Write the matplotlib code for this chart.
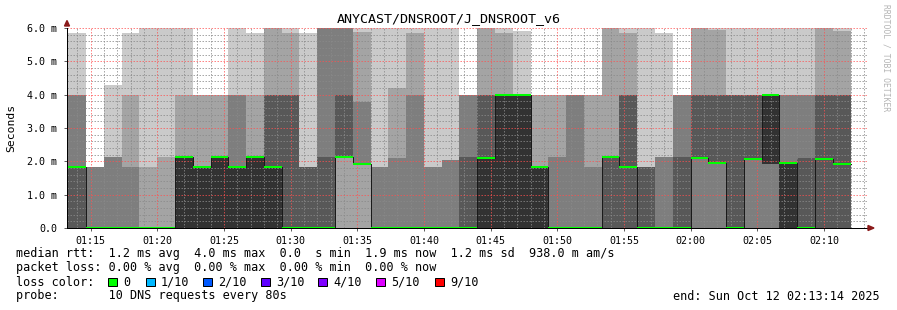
import matplotlib
matplotlib.use("Agg")
import matplotlib.pyplot as plt
import numpy as np
from matplotlib.patches import Polygon, Rectangle

# ---------------- data ----------------
title = "ANYCAST/DNSROOT/J_DNSROOT_v6"
graph_start_min = 73 + 14 / 60.0      # 01:13:14
graph_end_min = 133 + 14 / 60.0       # 02:13:14
first_step_min = 73 + 20 / 60.0       # 01:13:20
step_seconds = 80

# ten sorted ping round-trip times per 80 s step (ms)
ping_1 = [0] * 44
ping_2 = [0] * 44
ping_3 = [0, 0, 0, 0, 0, 0, 0, 0, 0, 0, 0, 0, 0, 0, 0, 2.14, 1.92, 0, 0, 0, 0, 0,
          0, 0, 0, 0, 0, 0, 0, 0, 0, 0, 0, 0, 0, 0, 0, 0, 0, 0, 0, 0, 0, 0]
ping_4 = [0, 0, 0, 0, 0, 0, 0, 0, 0, 0, 0, 0, 0, 0, 0, 2.14, 1.92, 0, 0, 0, 0, 0,
          0, 0, 0, 0, 0, 0, 0, 0, 0, 0, 0, 0, 0, 2.1, 1.95, 0, 2.06, 1.92, 0, 0, 0, 0]
ping_5 = [1.84, 0, 0, 0, 0, 0, 0, 0, 0, 0, 0, 0, 0, 0, 0, 2.14, 1.92, 0, 0, 0, 0, 0,
          0, 0, 0, 0, 0, 0, 0, 0, 2.14, 1.84, 0, 0, 0, 2.1, 1.95, 0, 2.06, 1.92, 0, 0, 2.06, 1.92]
ping_6 = [1.84, 0, 0, 0, 0, 0, 2.14, 1.84, 2.14, 1.84, 2.14, 1.84, 0, 0, 0, 2.14, 1.92, 0, 0, 0, 0, 0,
          0, 2.1, 4.0, 4.0, 1.84, 0, 0, 0, 2.14, 1.84, 0, 0, 0, 2.1, 1.95, 0, 2.06, 4.0, 1.95, 0, 2.06, 1.92]
ping_7 = [1.84, 0, 0, 0, 0, 0, 2.14, 1.84, 2.14, 1.84, 2.14, 4.0, 4.0, 1.84, 2.14, 4.0, 1.92, 0, 0, 0, 0, 0,
          2.14, 4.0, 4.0, 4.0, 1.84, 0, 0, 0, 2.14, 4.0, 1.84, 0, 2.14, 4.0, 4.0, 4.0, 4.0, 4.0, 1.95, 2.1, 4.0, 4.0]
ping_8 = [4.0, 1.84, 2.14, 1.84, 0, 0, 2.14, 1.84, 2.14, 4.0, 2.14, 4.0, 4.0, 1.84, 6.3, 6.3, 3.79, 1.84, 2.1, 4.0, 1.84, 2.04,
          4.0, 4.0, 4.0, 4.0, 1.84, 2.14, 4.0, 1.84, 2.14, 4.0, 1.84, 2.14, 4.0, 4.0, 4.0, 4.0, 4.0, 4.0, 4.0, 4.0, 4.0, 4.0]
ping_9 = [4.0, 1.84, 2.14, 4.0, 1.84, 2.14, 4.0, 4.0, 4.0, 4.0, 4.0, 6.3, 5.85, 1.84, 6.3, 6.3, 5.88, 1.84, 4.2, 5.85, 1.84, 2.04,
          4.0, 6.3, 5.85, 4.0, 4.0, 4.0, 4.0, 4.0, 6.3, 5.85, 1.84, 2.14, 4.0, 6.3, 5.95, 4.0, 4.0, 4.0, 4.0, 4.0, 6.3, 5.9]
ping_10 = [5.85, 1.84, 4.29, 5.85, 6.3, 6.3, 6.3, 4.0, 4.0, 6.3, 5.85, 6.3, 6.3, 5.85, 6.3, 6.3, 6.3, 6.3, 6.3, 6.3, 6.3, 6.3,
           4.0, 6.3, 6.3, 5.9, 4.0, 4.0, 4.0, 4.0, 6.3, 6.3, 6.3, 5.85, 4.0, 6.3, 6.3, 6.3, 6.3, 6.3, 6.3, 6.3, 6.3, 6.3]
median_rtt = [1.84, 0, 0, 0, 0, 0, 2.14, 1.84, 2.14, 1.84, 2.14, 1.84, 0, 0, 0, 2.14, 1.92, 0, 0, 0, 0, 0,
              0, 2.1, 4.0, 4.0, 1.84, 0, 0, 0, 2.14, 1.84, 0, 0, 0, 2.1, 1.95, 0, 2.06, 4.0, 1.95, 0, 2.06, 1.92]

y_ticks = [0, 1, 2, 3, 4, 5, 6]
y_tick_labels = ["0.0", "1.0 m", "2.0 m", "3.0 m", "4.0 m", "5.0 m", "6.0 m"]
x_tick_minutes = [75, 80, 85, 90, 95, 100, 105, 110, 115, 120, 125, 130]
x_tick_labels = ["01:15", "01:20", "01:25", "01:30", "01:35", "01:40",
                 "01:45", "01:50", "01:55", "02:00", "02:05", "02:10"]

legend_lines = [
    "median rtt:  1.2 ms avg  4.0 ms max  0.0  s min  1.9 ms now  1.2 ms sd  938.0 m am/s",
    "packet loss: 0.00 % avg  0.00 % max  0.00 % min  0.00 % now",
    "loss color:",
    "probe:       10 DNS requests every 80s",
]
loss_labels = ["0", "1/10", "2/10", "3/10", "4/10", "5/10", "9/10"]
loss_colors = ["#00ff00", "#00b8ff", "#0059ff", "#5e00ff", "#7e00ff", "#dd00ff", "#ff0000"]
end_text = "end: Sun Oct 12 02:13:14 2025"
smoke_colors = ["#cacaca", "#a4a4a4", "#7e7e7e", "#585858", "#323232"]

# ---------------- layout ----------------
W, H, DPI = 897, 310, 100
L, R, T, B = 67, 867, 28, 228
MONO = "DejaVu Sans Mono"

fig = plt.figure(figsize=(W / DPI, H / DPI), dpi=DPI)
fig.patch.set_facecolor("white")
ax = fig.add_axes([L / W, 1 - B / H, (R - L) / W, (B - T) / H])
ax.set_facecolor("white")
ax.set_xlim(graph_start_min, graph_end_min)
ax.set_ylim(0, 6)

pings = np.array([ping_1, ping_2, ping_3, ping_4, ping_5,
                  ping_6, ping_7, ping_8, ping_9, ping_10], dtype=float)
n = pings.shape[1]
step_min = step_seconds / 60.0
edges = first_step_min + step_min * np.arange(n + 1)

# smoke: nested bands between ping i and ping 11-i
for i, col in enumerate(smoke_colors):
    lo = np.append(pings[i], pings[i][-1])
    hi = np.append(pings[9 - i], pings[9 - i][-1])
    ax.fill_between(edges, lo, hi, step="post", color=col, linewidth=0, zorder=1)

# grid on top of the smoke
px = 1 / 1.389  # one pixel in points at 100 dpi
minor_kw = dict(color="#8a8a8a", alpha=0.75, lw=px, dashes=(1.5, 1.5), zorder=3)
major_kw = dict(color="#ff5050", alpha=0.7, lw=px, dashes=(1.5, 1.5), zorder=3)
for m in range(74, 134):
    if m % 5 == 0:
        continue
    ax.axvline(m, **minor_kw)
for v in np.arange(0.2, 6.01, 0.2):
    if abs(v - round(v)) < 1e-6:
        continue
    ax.axhline(v, **minor_kw)
for m in x_tick_minutes:
    ax.axvline(m, **major_kw)
for v in y_ticks[1:]:
    ax.axhline(v, **major_kw)

# median: thin dark step line and green loss-coloured segments
med = np.array(median_rtt, dtype=float)
ax.step(edges, np.append(med, med[-1]), where="post", color="#1a1a1a", lw=px, zorder=4)
ax.hlines(med, edges[:-1], edges[1:], color=loss_colors[0], lw=2 * px, zorder=5)

# axes styling
for s in ["top", "right"]:
    ax.spines[s].set_visible(False)
for s in ["left", "bottom"]:
    ax.spines[s].set_color("#000000")
    ax.spines[s].set_linewidth(px)
    ax.spines[s].set_zorder(6)

ax.set_yticks(y_ticks)
ax.set_yticklabels(y_tick_labels, fontfamily=MONO, fontsize=7.2)
ax.set_xticks(x_tick_minutes)
ax.set_xticklabels(x_tick_labels, fontfamily=MONO, fontsize=7.2)
ax.tick_params(axis="both", length=2, width=px, color="#606060", pad=4)
ax.tick_params(axis="y", pad=5)

# arrows
def fpt(x, y):
    return (x / W, 1 - y / H)

fig.patches.append(Polygon([fpt(64.5, 26), fpt(69.5, 26), fpt(67, 20.5)], closed=True,
                           transform=fig.transFigure, color="#8b1a1a", zorder=10))
fig.patches.append(Polygon([fpt(868, 225.5), fpt(868, 230.5), fpt(874, 228)], closed=True,
                           transform=fig.transFigure, color="#8b1a1a", zorder=10))

# texts
fig.text(448.5 / W, 1 - 19 / H, title, ha="center", va="center", fontfamily=MONO, fontsize=9.6)
fig.text(11 / W, 1 - 128 / H, "Seconds", rotation=90, ha="center", va="center",
         fontfamily=MONO, fontsize=8.2)
fig.text(886 / W, 1 - 4 / H, "RRDTOOL / TOBI OETIKER", rotation=270, ha="center", va="top",
         fontfamily=MONO, fontsize=5.8, color="#b4b4b4")

baselines = [257.5, 271.5, 285.5, 299.5]
for txt, yb in zip(legend_lines, baselines):
    fig.text(16 / W, 1 - yb / H, txt, ha="left", va="baseline", fontfamily=MONO, fontsize=8.5)

box_x = [108, 146, 203, 261, 318, 376, 435]
for bx, lab, col in zip(box_x, loss_labels, loss_colors):
    fig.patches.append(Rectangle(fpt(bx, 286), 8.5 / W, 8.5 / H, transform=fig.transFigure,
                                 facecolor=col, edgecolor="black", linewidth=px, zorder=10))
    fig.text((bx + 15) / W, 1 - baselines[2] / H, lab, ha="left", va="baseline",
             fontfamily=MONO, fontsize=8.5)

fig.text(880 / W, 1 - baselines[3] / H, end_text, ha="right", va="baseline",
         fontfamily=MONO, fontsize=8.5)

fig.savefig("out.png", dpi=DPI, facecolor="white")
